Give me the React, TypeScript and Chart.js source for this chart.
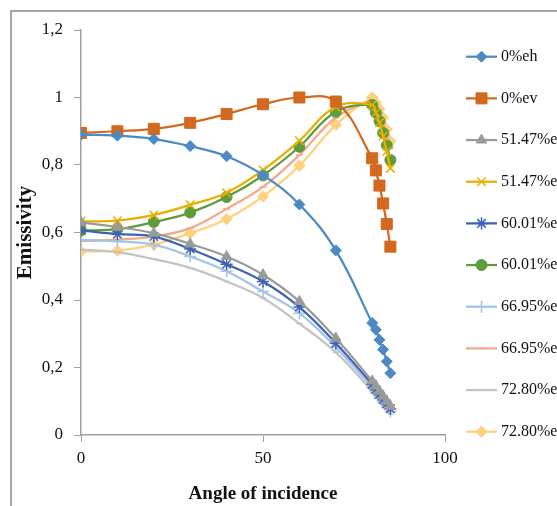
import React, { useEffect, useRef } from 'react';
import { Chart, registerables } from 'chart.js';
import { drawPoint } from 'chart.js/helpers';

Chart.register(...registerables);

// ---- data ----
const angles = [0, 10, 20, 30, 40, 50, 60, 70, 80, 81, 82, 83, 84, 85];

const e0eh = [0.89, 0.887, 0.877, 0.856, 0.826, 0.77, 0.683, 0.547, 0.332, 0.312, 0.282, 0.253, 0.218, 0.183];
const e0ev = [0.895, 0.9, 0.907, 0.925, 0.951, 0.98, 1.0, 0.988, 0.82, 0.784, 0.739, 0.686, 0.625, 0.558];
const e5147eh = [0.63, 0.616, 0.598, 0.566, 0.529, 0.475, 0.396, 0.287, 0.16, 0.145, 0.13, 0.115, 0.1, 0.085];
const e5147ev = [0.633, 0.635, 0.652, 0.682, 0.718, 0.785, 0.872, 0.972, 0.978, 0.955, 0.925, 0.885, 0.84, 0.79];
const e6001eh = [0.606, 0.595, 0.588, 0.551, 0.506, 0.455, 0.379, 0.272, 0.15, 0.135, 0.12, 0.105, 0.092, 0.078];
const e6001ev = [0.606, 0.61, 0.631, 0.659, 0.705, 0.769, 0.854, 0.958, 0.978, 0.955, 0.93, 0.895, 0.858, 0.815];
const e6695eh = [0.578, 0.574, 0.564, 0.529, 0.485, 0.425, 0.361, 0.26, 0.14, 0.125, 0.11, 0.097, 0.084, 0.07];
const e6695ev = [0.575, 0.579, 0.588, 0.613, 0.67, 0.735, 0.83, 0.94, 0.99, 0.975, 0.955, 0.925, 0.89, 0.85];
const e7280eh = [0.549, 0.542, 0.521, 0.495, 0.455, 0.406, 0.33, 0.245, 0.13, 0.116, 0.102, 0.089, 0.076, 0.063];
const e7280ev = [0.544, 0.546, 0.564, 0.598, 0.64, 0.707, 0.798, 0.919, 1.0, 0.985, 0.965, 0.94, 0.905, 0.87];

const seriesNames = ['0%eh', '0%ev', '51.47%eh', '51.47%ev', '60.01%eh', '60.01%ev', '66.95%eh', '66.95%ev', '72.80%eh', '72.80%ev'];
const seriesValues = [e0eh, e0ev, e5147eh, e5147ev, e6001eh, e6001ev, e6695eh, e6695ev, e7280eh, e7280ev];

const yTickLabels = ['0', '0,2', '0,4', '0,6', '0,8', '1', '1,2'];
const xTickLabels = ['0', '50', '100'];

const xTitle = 'Angle of incidence';
const yTitle = 'Emissivity';

// ---- styles ----
const seriesStyles = [
  { color: '#4d8ac4', point: 'rectRot', r: 5.5 },
  { color: '#d2691f', point: 'rect', r: 7.8 },
  { color: '#9a9a9a', point: 'triangle', r: 6 },
  { color: '#e8ae00', point: 'crossRot', r: 6 },
  { color: '#3d63b3', point: 'star', r: 6 },
  { color: '#5e9b3b', point: 'circle', r: 5.5 },
  { color: '#a3c3e7', point: 'cross', r: 6 },
  { color: '#f3a98a', point: 'line', r: 3.5 },
  { color: '#c3c3c3', point: 'line', r: 3 },
  { color: '#ffd17f', point: 'rectRot', r: 5.7 },
];

const FONT = '"Liberation Serif", "Times New Roman", serif';

const legendPlugin = {
  id: 'sideLegend',
  afterDraw(chart: any) {
    const ctx = chart.ctx as CanvasRenderingContext2D;
    const x0 = 466, x1 = 497, tx = 501, y0 = 56.7, dy = 41.67;
    chart.data.datasets.forEach((ds: any, i: number) => {
      const y = y0 + i * dy;
      ctx.save();
      ctx.strokeStyle = ds.borderColor;
      ctx.lineWidth = 2.25;
      ctx.beginPath();
      ctx.moveTo(x0, y);
      ctx.lineTo(x1, y);
      ctx.stroke();
      if (i !== 8) {
        ctx.fillStyle = ds.pointBackgroundColor;
        ctx.strokeStyle = ds.pointBorderColor;
        ctx.lineWidth = ds.pointBorderWidth;
        drawPoint(ctx, { pointStyle: ds.pointStyle, radius: ds.pointRadius, rotation: 0, borderWidth: ds.pointBorderWidth } as any, (x0 + x1) / 2, y);
      }
      ctx.fillStyle = '#111';
      ctx.font = '16px ' + FONT;
      ctx.textBaseline = 'middle';
      ctx.textAlign = 'left';
      ctx.fillText(ds.label, tx, y);
      ctx.restore();
    });
  },
};

export default function App() {
  const ref = useRef<HTMLCanvasElement | null>(null);

  useEffect(() => {
    if (!ref.current) return;
    const datasets = seriesNames.map((name, i) => {
      const s = seriesStyles[i];
      const lineish = s.point === 'line' || s.point === 'cross' || s.point === 'crossRot' || s.point === 'star';
      return {
        label: name,
        data: angles.map((a, j) => ({ x: a, y: seriesValues[i][j] })),
        borderColor: s.color,
        backgroundColor: s.color,
        borderWidth: 2.25,
        pointStyle: s.point,
        pointRadius: s.r,
        pointBackgroundColor: s.color,
        pointBorderColor: s.color,
        pointBorderWidth: lineish ? 1.5 : 1,
        tension: 0.4,
        fill: false,
        order: i,
      };
    });

    const chart = new Chart(ref.current, {
      type: 'line',
      data: { datasets },
      plugins: [legendPlugin],
      options: {
        animation: false,
        responsive: false,
        devicePixelRatio: 1,
        layout: { padding: { left: 9, top: 30, right: 112, bottom: 0 } },
        plugins: { legend: { display: false }, tooltip: { enabled: false } },
        scales: {
          x: {
            type: 'linear',
            min: 0,
            max: 100,
            afterFit: (scale: any) => { scale.height = 71; },
            afterBuildTicks: (scale: any) => {
              scale.ticks = xTickLabels.map((t) => ({ value: Number(t) }));
            },
            ticks: {
              callback: (_v: any, idx: number) => xTickLabels[idx],
              font: { family: FONT, size: 17 },
              color: '#111',
              padding: 6,
              maxRotation: 0,
            },
            grid: { drawOnChartArea: false, tickLength: 7, color: '#a0a0a0', lineWidth: 1 },
            border: { color: '#a0a0a0', width: 1.5 },
            title: {
              display: true,
              text: xTitle,
              font: { family: FONT, size: 19, weight: 'bold' },
              color: '#111',
              padding: { top: 0, bottom: 1 },
            },
          },
          y: {
            type: 'linear',
            min: 0,
            max: 1.2,
            afterFit: (scale: any) => { scale.width = 72; },
            afterBuildTicks: (scale: any) => {
              scale.ticks = yTickLabels.map((t) => ({ value: Number(t.replace(',', '.')) }));
            },
            ticks: {
              callback: (_v: any, idx: number) => yTickLabels[idx],
              font: { family: FONT, size: 17 },
              color: '#111',
              padding: 11,
            },
            grid: { drawOnChartArea: false, tickLength: 7, color: '#a0a0a0', lineWidth: 1 },
            border: { color: '#a0a0a0', width: 1.5 },
            title: {
              display: true,
              text: yTitle,
              font: { family: FONT, size: 21, weight: 'bold' },
              color: '#111',
              padding: { top: 4, bottom: 0 },
            },
          },
        },
      } as any,
    });
    return () => chart.destroy();
  }, []);

  return (
    <div style={{ position: 'fixed', left: 0, top: 0, width: 557, height: 506, overflow: 'hidden', background: '#fff' }}>
      <div style={{ position: 'absolute', left: 10, top: 10, width: 700, height: 700, borderLeft: '2px solid #a6a6a6', borderTop: '2px solid #a6a6a6' }} />
      <canvas ref={ref} width={557} height={506} style={{ position: 'absolute', left: 0, top: 0, width: 557, height: 506 }} />
    </div>
  );
}
